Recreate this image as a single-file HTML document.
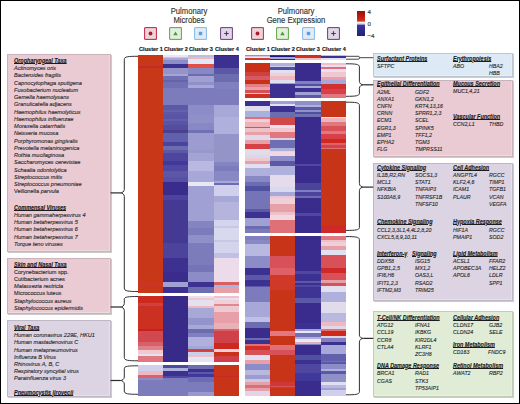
<!DOCTYPE html>
<html><head><meta charset="utf-8"><style>
html,body{margin:0;padding:0;background:#fff;}
body{width:520px;height:404px;position:relative;overflow:hidden;font-family:"Liberation Sans",sans-serif;}
.h{position:absolute;}
.bx{position:absolute;border:1px solid;box-shadow:1px 1px 0.6px rgba(0,0,0,0.2), inset -1px -1px 0 rgba(255,255,255,0.3);}
.t{position:absolute;white-space:nowrap;line-height:1;font-style:italic;color:#2c2c2c;-webkit-text-stroke:0.14px currentColor;transform-origin:0 0;text-underline-offset:0px;text-decoration-color:rgba(20,20,20,0.5);}
.c{position:absolute;width:120px;text-align:center;white-space:nowrap;line-height:1;-webkit-text-stroke:0.15px currentColor;}
.ic{position:absolute;}
.ov{position:absolute;left:0;top:0;}
.fr{position:absolute;left:0;top:0;width:518px;height:402px;border:1px solid #000;pointer-events:none;}
</style></head><body>
<div class="h" style="left:138px;top:55px;width:25px;height:11px;background:#c83818"></div>
<div class="h" style="left:138px;top:66px;width:25px;height:2px;background:#c02c28"></div>
<div class="h" style="left:138px;top:68px;width:25px;height:215px;background:#c83818"></div>
<div class="h" style="left:138px;top:283px;width:25px;height:3px;background:#d03030"></div>
<div class="h" style="left:138px;top:286px;width:25px;height:7px;background:#c83818"></div>
<div class="h" style="left:138px;top:296px;width:25px;height:7px;background:#cc2a1c"></div>
<div class="h" style="left:138px;top:303px;width:25px;height:3px;background:#d04040"></div>
<div class="h" style="left:138px;top:306px;width:25px;height:23px;background:#cc3020"></div>
<div class="h" style="left:138px;top:329px;width:25px;height:2px;background:#c82020"></div>
<div class="h" style="left:138px;top:331px;width:25px;height:11px;background:#d04850"></div>
<div class="h" style="left:138px;top:342px;width:25px;height:4px;background:#d86068"></div>
<div class="h" style="left:138px;top:346px;width:25px;height:4px;background:#e08088"></div>
<div class="h" style="left:138px;top:350px;width:25px;height:4px;background:#f0c8d0"></div>
<div class="h" style="left:138px;top:354px;width:25px;height:2px;background:#e8e0f0"></div>
<div class="h" style="left:138px;top:356px;width:25px;height:6px;background:#e07880"></div>
<div class="h" style="left:138px;top:365px;width:25px;height:6px;background:#d0d0ec"></div>
<div class="h" style="left:138px;top:371px;width:25px;height:4px;background:#f0b8c0"></div>
<div class="h" style="left:138px;top:375px;width:25px;height:3px;background:#e06068"></div>
<div class="h" style="left:138px;top:378px;width:25px;height:2px;background:#8c8cc8"></div>
<div class="h" style="left:138px;top:380px;width:25px;height:16px;background:#7c7cbc"></div>
<div class="h" style="left:163px;top:55px;width:25px;height:2px;background:#ece4f0"></div>
<div class="h" style="left:163px;top:57px;width:25px;height:1px;background:#c8c8e4"></div>
<div class="h" style="left:163px;top:58px;width:25px;height:2px;background:#a8a8d8"></div>
<div class="h" style="left:163px;top:60px;width:25px;height:4px;background:#8c8cc8"></div>
<div class="h" style="left:163px;top:64px;width:25px;height:4px;background:#3c3090"></div>
<div class="h" style="left:163px;top:68px;width:25px;height:6px;background:#9494c8"></div>
<div class="h" style="left:163px;top:74px;width:25px;height:2px;background:#a4a4d4"></div>
<div class="h" style="left:163px;top:76px;width:25px;height:4px;background:#7070b4"></div>
<div class="h" style="left:163px;top:80px;width:25px;height:2px;background:#6464ac"></div>
<div class="h" style="left:163px;top:82px;width:25px;height:6px;background:#7070b4"></div>
<div class="h" style="left:163px;top:88px;width:25px;height:17px;background:#7c7cbc"></div>
<div class="h" style="left:163px;top:105px;width:25px;height:5px;background:#5c58a8"></div>
<div class="h" style="left:163px;top:110px;width:25px;height:2px;background:#6464ac"></div>
<div class="h" style="left:163px;top:112px;width:25px;height:3px;background:#5c58a8"></div>
<div class="h" style="left:163px;top:115px;width:25px;height:4px;background:#5a54a4"></div>
<div class="h" style="left:163px;top:119px;width:25px;height:2px;background:#6060ac"></div>
<div class="h" style="left:163px;top:121px;width:25px;height:4px;background:#5a54a4"></div>
<div class="h" style="left:163px;top:125px;width:25px;height:5px;background:#544c9c"></div>
<div class="h" style="left:163px;top:130px;width:25px;height:3px;background:#4a4090"></div>
<div class="h" style="left:163px;top:133px;width:25px;height:9px;background:#6060ac"></div>
<div class="h" style="left:163px;top:142px;width:25px;height:4px;background:#4c449c"></div>
<div class="h" style="left:163px;top:146px;width:25px;height:4px;background:#6c6cb0"></div>
<div class="h" style="left:163px;top:150px;width:25px;height:3px;background:#5c58a8"></div>
<div class="h" style="left:163px;top:153px;width:25px;height:8px;background:#4e469c"></div>
<div class="h" style="left:163px;top:161px;width:25px;height:4px;background:#40389a"></div>
<div class="h" style="left:163px;top:165px;width:25px;height:6px;background:#5048a0"></div>
<div class="h" style="left:163px;top:171px;width:25px;height:6px;background:#5c58a8"></div>
<div class="h" style="left:163px;top:177px;width:25px;height:5px;background:#5850a4"></div>
<div class="h" style="left:163px;top:182px;width:25px;height:13px;background:#3a2c8c"></div>
<div class="h" style="left:163px;top:195px;width:25px;height:5px;background:#4c449c"></div>
<div class="h" style="left:163px;top:200px;width:25px;height:43px;background:#443a94"></div>
<div class="h" style="left:163px;top:243px;width:25px;height:15px;background:#4c449c"></div>
<div class="h" style="left:163px;top:258px;width:25px;height:14px;background:#3c3090"></div>
<div class="h" style="left:163px;top:272px;width:25px;height:10px;background:#3a2c8c"></div>
<div class="h" style="left:163px;top:282px;width:25px;height:5px;background:#a0a0d4"></div>
<div class="h" style="left:163px;top:287px;width:25px;height:6px;background:#3c3090"></div>
<div class="h" style="left:163px;top:296px;width:25px;height:66px;background:#382a88"></div>
<div class="h" style="left:163px;top:365px;width:25px;height:3px;background:#5048a0"></div>
<div class="h" style="left:163px;top:368px;width:25px;height:3px;background:#b0b0dc"></div>
<div class="h" style="left:163px;top:371px;width:25px;height:5px;background:#3c3090"></div>
<div class="h" style="left:163px;top:376px;width:25px;height:2px;background:#5048a0"></div>
<div class="h" style="left:163px;top:378px;width:25px;height:18px;background:#7c7cbc"></div>
<div class="h" style="left:188px;top:55px;width:26px;height:2px;background:#b8c0e4"></div>
<div class="h" style="left:188px;top:57px;width:26px;height:2px;background:#f0b8b8"></div>
<div class="h" style="left:188px;top:59px;width:26px;height:5px;background:#e0e8f8"></div>
<div class="h" style="left:188px;top:64px;width:26px;height:4px;background:#e05048"></div>
<div class="h" style="left:188px;top:68px;width:26px;height:6px;background:#8888c4"></div>
<div class="h" style="left:188px;top:74px;width:26px;height:2px;background:#6c6cb0"></div>
<div class="h" style="left:188px;top:76px;width:26px;height:6px;background:#a0a0d4"></div>
<div class="h" style="left:188px;top:82px;width:26px;height:3px;background:#9090c8"></div>
<div class="h" style="left:188px;top:85px;width:26px;height:3px;background:#a8a8d8"></div>
<div class="h" style="left:188px;top:88px;width:26px;height:17px;background:#7c7cbc"></div>
<div class="h" style="left:188px;top:105px;width:26px;height:9px;background:#8c8cc8"></div>
<div class="h" style="left:188px;top:114px;width:26px;height:9px;background:#9090c8"></div>
<div class="h" style="left:188px;top:123px;width:26px;height:7px;background:#8888c4"></div>
<div class="h" style="left:188px;top:130px;width:26px;height:3px;background:#7070b4"></div>
<div class="h" style="left:188px;top:133px;width:26px;height:17px;background:#9c9cd0"></div>
<div class="h" style="left:188px;top:150px;width:26px;height:3px;background:#9898cc"></div>
<div class="h" style="left:188px;top:153px;width:26px;height:8px;background:#a4a4d4"></div>
<div class="h" style="left:188px;top:161px;width:26px;height:10px;background:#b8b8e0"></div>
<div class="h" style="left:188px;top:171px;width:26px;height:11px;background:#a8a8d8"></div>
<div class="h" style="left:188px;top:182px;width:26px;height:4px;background:#e8e8f4"></div>
<div class="h" style="left:188px;top:186px;width:26px;height:35px;background:#a0a0d4"></div>
<div class="h" style="left:188px;top:221px;width:26px;height:7px;background:#8484c2"></div>
<div class="h" style="left:188px;top:228px;width:26px;height:7px;background:#7c7cbc"></div>
<div class="h" style="left:188px;top:235px;width:26px;height:8px;background:#9090c8"></div>
<div class="h" style="left:188px;top:243px;width:26px;height:22px;background:#7c7cbc"></div>
<div class="h" style="left:188px;top:265px;width:26px;height:7px;background:#7474b8"></div>
<div class="h" style="left:188px;top:272px;width:26px;height:10px;background:#8c8cc8"></div>
<div class="h" style="left:188px;top:282px;width:26px;height:5px;background:#3c3090"></div>
<div class="h" style="left:188px;top:287px;width:26px;height:6px;background:#6c6cb0"></div>
<div class="h" style="left:188px;top:296px;width:26px;height:2px;background:#e8e0f0"></div>
<div class="h" style="left:188px;top:298px;width:26px;height:2px;background:#f0c8d0"></div>
<div class="h" style="left:188px;top:300px;width:26px;height:6px;background:#e4e0f0"></div>
<div class="h" style="left:188px;top:306px;width:26px;height:2px;background:#f0b8c0"></div>
<div class="h" style="left:188px;top:308px;width:26px;height:10px;background:#a8a8d8"></div>
<div class="h" style="left:188px;top:318px;width:26px;height:7px;background:#9494cc"></div>
<div class="h" style="left:188px;top:325px;width:26px;height:4px;background:#a8a8d8"></div>
<div class="h" style="left:188px;top:329px;width:26px;height:4px;background:#6c6cb0"></div>
<div class="h" style="left:188px;top:333px;width:26px;height:4px;background:#8080c0"></div>
<div class="h" style="left:188px;top:337px;width:26px;height:9px;background:#b0b0dc"></div>
<div class="h" style="left:188px;top:346px;width:26px;height:3px;background:#a0a8d8"></div>
<div class="h" style="left:188px;top:349px;width:26px;height:3px;background:#d84040"></div>
<div class="h" style="left:188px;top:352px;width:26px;height:3px;background:#c8d0ec"></div>
<div class="h" style="left:188px;top:355px;width:26px;height:2px;background:#f0c0c8"></div>
<div class="h" style="left:188px;top:357px;width:26px;height:5px;background:#e4e4f4"></div>
<div class="h" style="left:188px;top:365px;width:26px;height:4px;background:#6c6cb0"></div>
<div class="h" style="left:188px;top:369px;width:26px;height:3px;background:#3c3090"></div>
<div class="h" style="left:188px;top:372px;width:26px;height:2px;background:#5c58a8"></div>
<div class="h" style="left:188px;top:374px;width:26px;height:3px;background:#40389a"></div>
<div class="h" style="left:188px;top:377px;width:26px;height:5px;background:#6c6cb0"></div>
<div class="h" style="left:188px;top:382px;width:26px;height:10px;background:#7c7cbc"></div>
<div class="h" style="left:188px;top:392px;width:26px;height:4px;background:#9898cc"></div>
<div class="h" style="left:214px;top:55px;width:25px;height:1px;background:#302888"></div>
<div class="h" style="left:214px;top:56px;width:25px;height:12px;background:#3c3090"></div>
<div class="h" style="left:214px;top:68px;width:25px;height:6px;background:#5c58a8"></div>
<div class="h" style="left:214px;top:74px;width:25px;height:8px;background:#6c6cb0"></div>
<div class="h" style="left:214px;top:82px;width:25px;height:7px;background:#8080c0"></div>
<div class="h" style="left:214px;top:89px;width:25px;height:16px;background:#7c7cbc"></div>
<div class="h" style="left:214px;top:105px;width:25px;height:12px;background:#a8a8d8"></div>
<div class="h" style="left:214px;top:117px;width:25px;height:17px;background:#b0b0dc"></div>
<div class="h" style="left:214px;top:134px;width:25px;height:28px;background:#9494c8"></div>
<div class="h" style="left:214px;top:162px;width:25px;height:4px;background:#8484c2"></div>
<div class="h" style="left:214px;top:166px;width:25px;height:5px;background:#7c7cbc"></div>
<div class="h" style="left:214px;top:171px;width:25px;height:10px;background:#8888c4"></div>
<div class="h" style="left:214px;top:181px;width:25px;height:2px;background:#a8a8d8"></div>
<div class="h" style="left:214px;top:183px;width:25px;height:2px;background:#6c6cb0"></div>
<div class="h" style="left:214px;top:185px;width:25px;height:11px;background:#d0d0ec"></div>
<div class="h" style="left:214px;top:196px;width:25px;height:6px;background:#a8a8d8"></div>
<div class="h" style="left:214px;top:202px;width:25px;height:18px;background:#b4b4dc"></div>
<div class="h" style="left:214px;top:220px;width:25px;height:6px;background:#d4d4ec"></div>
<div class="h" style="left:214px;top:226px;width:25px;height:2px;background:#c8c8e4"></div>
<div class="h" style="left:214px;top:228px;width:25px;height:12px;background:#d8d8ee"></div>
<div class="h" style="left:214px;top:240px;width:25px;height:2px;background:#c8c8e4"></div>
<div class="h" style="left:214px;top:242px;width:25px;height:11px;background:#d4d4ec"></div>
<div class="h" style="left:214px;top:253px;width:25px;height:5px;background:#c0c0e4"></div>
<div class="h" style="left:214px;top:258px;width:25px;height:24px;background:#ecdcea"></div>
<div class="h" style="left:214px;top:282px;width:25px;height:3px;background:#d86060"></div>
<div class="h" style="left:214px;top:285px;width:25px;height:2px;background:#a8b4e0"></div>
<div class="h" style="left:214px;top:287px;width:25px;height:6px;background:#e8a0a8"></div>
<div class="h" style="left:214px;top:296px;width:25px;height:2px;background:#f0c0c8"></div>
<div class="h" style="left:214px;top:298px;width:25px;height:2px;background:#e8e0f0"></div>
<div class="h" style="left:214px;top:300px;width:25px;height:4px;background:#f0d0d8"></div>
<div class="h" style="left:214px;top:304px;width:25px;height:2px;background:#e08890"></div>
<div class="h" style="left:214px;top:306px;width:25px;height:6px;background:#f0c8d0"></div>
<div class="h" style="left:214px;top:312px;width:25px;height:11px;background:#e8a0a8"></div>
<div class="h" style="left:214px;top:323px;width:25px;height:6px;background:#eab0b8"></div>
<div class="h" style="left:214px;top:329px;width:25px;height:2px;background:#d86068"></div>
<div class="h" style="left:214px;top:331px;width:25px;height:12px;background:#d04048"></div>
<div class="h" style="left:214px;top:343px;width:25px;height:6px;background:#cc2820"></div>
<div class="h" style="left:214px;top:349px;width:25px;height:3px;background:#f0d0d8"></div>
<div class="h" style="left:214px;top:352px;width:25px;height:4px;background:#cc3018"></div>
<div class="h" style="left:214px;top:356px;width:25px;height:6px;background:#d04048"></div>
<div class="h" style="left:214px;top:365px;width:25px;height:11px;background:#c83418"></div>
<div class="h" style="left:214px;top:376px;width:25px;height:1px;background:#c82828"></div>
<div class="h" style="left:214px;top:377px;width:25px;height:19px;background:#c83418"></div>
<div class="h" style="left:245px;top:55px;width:25px;height:1px;background:#9890c8"></div>
<div class="h" style="left:245px;top:56px;width:25px;height:1px;background:#d0c8e4"></div>
<div class="h" style="left:245px;top:57px;width:25px;height:1px;background:#f4e8ee"></div>
<div class="h" style="left:245px;top:58px;width:25px;height:2px;background:#d03c28"></div>
<div class="h" style="left:245px;top:63px;width:25px;height:9px;background:#c83018"></div>
<div class="h" style="left:245px;top:72px;width:25px;height:4px;background:#d04040"></div>
<div class="h" style="left:245px;top:76px;width:25px;height:4px;background:#d65a62"></div>
<div class="h" style="left:245px;top:80px;width:25px;height:4px;background:#c83018"></div>
<div class="h" style="left:245px;top:84px;width:25px;height:3px;background:#e08088"></div>
<div class="h" style="left:245px;top:87px;width:25px;height:3px;background:#e8a0a8"></div>
<div class="h" style="left:245px;top:90px;width:25px;height:3px;background:#d85058"></div>
<div class="h" style="left:245px;top:93px;width:25px;height:1px;background:#f0c0c8"></div>
<div class="h" style="left:245px;top:94px;width:25px;height:4px;background:#d03020"></div>
<div class="h" style="left:245px;top:101px;width:25px;height:5px;background:#3c3090"></div>
<div class="h" style="left:245px;top:106px;width:25px;height:5px;background:#e0dcec"></div>
<div class="h" style="left:245px;top:111px;width:25px;height:6px;background:#a8b0dc"></div>
<div class="h" style="left:245px;top:117px;width:25px;height:2px;background:#e07080"></div>
<div class="h" style="left:245px;top:119px;width:25px;height:3px;background:#f0d0d8"></div>
<div class="h" style="left:245px;top:122px;width:25px;height:5px;background:#f0b0b8"></div>
<div class="h" style="left:245px;top:127px;width:25px;height:1px;background:#d85058"></div>
<div class="h" style="left:245px;top:128px;width:25px;height:4px;background:#f0c0c8"></div>
<div class="h" style="left:245px;top:132px;width:25px;height:3px;background:#e8a0a8"></div>
<div class="h" style="left:245px;top:135px;width:25px;height:5px;background:#e0d8e8"></div>
<div class="h" style="left:245px;top:140px;width:25px;height:4px;background:#e8a0a8"></div>
<div class="h" style="left:245px;top:144px;width:25px;height:5px;background:#d84048"></div>
<div class="h" style="left:245px;top:149px;width:25px;height:6px;background:#e0dce8"></div>
<div class="h" style="left:245px;top:155px;width:25px;height:3px;background:#d8d8ee"></div>
<div class="h" style="left:245px;top:158px;width:25px;height:3px;background:#f0c8d0"></div>
<div class="h" style="left:245px;top:161px;width:25px;height:3px;background:#e8a0a8"></div>
<div class="h" style="left:245px;top:164px;width:25px;height:4px;background:#e0e0f0"></div>
<div class="h" style="left:245px;top:168px;width:25px;height:8px;background:#b0b0dc"></div>
<div class="h" style="left:245px;top:176px;width:25px;height:6px;background:#8888c4"></div>
<div class="h" style="left:245px;top:182px;width:25px;height:4px;background:#6c6cb0"></div>
<div class="h" style="left:245px;top:186px;width:25px;height:5px;background:#5050a0"></div>
<div class="h" style="left:245px;top:191px;width:25px;height:18px;background:#7474b6"></div>
<div class="h" style="left:245px;top:209px;width:25px;height:3px;background:#5c58a8"></div>
<div class="h" style="left:245px;top:212px;width:25px;height:6px;background:#3c3090"></div>
<div class="h" style="left:245px;top:218px;width:25px;height:8px;background:#a0a0d4"></div>
<div class="h" style="left:245px;top:226px;width:25px;height:3px;background:#6c6cb0"></div>
<div class="h" style="left:245px;top:229px;width:25px;height:4px;background:#7c7cbc"></div>
<div class="h" style="left:245px;top:236px;width:25px;height:4px;background:#8080c0"></div>
<div class="h" style="left:245px;top:240px;width:25px;height:4px;background:#8888c4"></div>
<div class="h" style="left:245px;top:244px;width:25px;height:12px;background:#b8b8e0"></div>
<div class="h" style="left:245px;top:256px;width:25px;height:12px;background:#8c8cc8"></div>
<div class="h" style="left:245px;top:268px;width:25px;height:7px;background:#3c3090"></div>
<div class="h" style="left:245px;top:275px;width:25px;height:5px;background:#5c58a8"></div>
<div class="h" style="left:245px;top:280px;width:25px;height:6px;background:#3c3090"></div>
<div class="h" style="left:245px;top:286px;width:25px;height:1px;background:#5c58a8"></div>
<div class="h" style="left:245px;top:287px;width:25px;height:15px;background:#7c7cbc"></div>
<div class="h" style="left:245px;top:302px;width:25px;height:15px;background:#a8a8d8"></div>
<div class="h" style="left:245px;top:317px;width:25px;height:5px;background:#c0c0e4"></div>
<div class="h" style="left:245px;top:322px;width:25px;height:6px;background:#6c6cb0"></div>
<div class="h" style="left:245px;top:328px;width:25px;height:10px;background:#3a2c8c"></div>
<div class="h" style="left:245px;top:338px;width:25px;height:2px;background:#6c6cb0"></div>
<div class="h" style="left:245px;top:340px;width:25px;height:4px;background:#3c3090"></div>
<div class="h" style="left:245px;top:344px;width:25px;height:2px;background:#e07078"></div>
<div class="h" style="left:245px;top:346px;width:25px;height:4px;background:#d03028"></div>
<div class="h" style="left:245px;top:350px;width:25px;height:5px;background:#d85058"></div>
<div class="h" style="left:245px;top:355px;width:25px;height:5px;background:#e0e0f0"></div>
<div class="h" style="left:245px;top:360px;width:25px;height:4px;background:#e8a0a8"></div>
<div class="h" style="left:245px;top:364px;width:25px;height:6px;background:#8c8cc8"></div>
<div class="h" style="left:245px;top:370px;width:25px;height:5px;background:#b8b8e0"></div>
<div class="h" style="left:245px;top:375px;width:25px;height:4px;background:#9c9cd0"></div>
<div class="h" style="left:245px;top:379px;width:25px;height:3px;background:#c8c8e8"></div>
<div class="h" style="left:245px;top:382px;width:25px;height:3px;background:#e8a0a8"></div>
<div class="h" style="left:245px;top:385px;width:25px;height:3px;background:#d87078"></div>
<div class="h" style="left:245px;top:388px;width:25px;height:3px;background:#e8a0a8"></div>
<div class="h" style="left:245px;top:391px;width:25px;height:3px;background:#d8d8f0"></div>
<div class="h" style="left:245px;top:394px;width:25px;height:2px;background:#f0d0e0"></div>
<div class="h" style="left:270px;top:55px;width:25px;height:1px;background:#3a3090"></div>
<div class="h" style="left:270px;top:56px;width:25px;height:1px;background:#201878"></div>
<div class="h" style="left:270px;top:57px;width:25px;height:2px;background:#a8a8d4"></div>
<div class="h" style="left:270px;top:59px;width:25px;height:1px;background:#302888"></div>
<div class="h" style="left:270px;top:63px;width:25px;height:3px;background:#b0b0dc"></div>
<div class="h" style="left:270px;top:66px;width:25px;height:1px;background:#d0d0ec"></div>
<div class="h" style="left:270px;top:67px;width:25px;height:3px;background:#5050a0"></div>
<div class="h" style="left:270px;top:70px;width:25px;height:3px;background:#e0e0f0"></div>
<div class="h" style="left:270px;top:73px;width:25px;height:3px;background:#f0d0d8"></div>
<div class="h" style="left:270px;top:76px;width:25px;height:4px;background:#f0b8c0"></div>
<div class="h" style="left:270px;top:80px;width:25px;height:3px;background:#e0e0f0"></div>
<div class="h" style="left:270px;top:83px;width:25px;height:1px;background:#a0a0d4"></div>
<div class="h" style="left:270px;top:84px;width:25px;height:14px;background:#3c3090"></div>
<div class="h" style="left:270px;top:101px;width:25px;height:3px;background:#a0a0d4"></div>
<div class="h" style="left:270px;top:104px;width:25px;height:2px;background:#e0e0f0"></div>
<div class="h" style="left:270px;top:106px;width:25px;height:6px;background:#3c3090"></div>
<div class="h" style="left:270px;top:112px;width:25px;height:5px;background:#6c6cb0"></div>
<div class="h" style="left:270px;top:117px;width:25px;height:8px;background:#d04848"></div>
<div class="h" style="left:270px;top:125px;width:25px;height:3px;background:#e8e0f0"></div>
<div class="h" style="left:270px;top:128px;width:25px;height:4px;background:#f0c8d0"></div>
<div class="h" style="left:270px;top:132px;width:25px;height:6px;background:#e07880"></div>
<div class="h" style="left:270px;top:138px;width:25px;height:2px;background:#e0d0e0"></div>
<div class="h" style="left:270px;top:140px;width:25px;height:8px;background:#6e6eb2"></div>
<div class="h" style="left:270px;top:148px;width:25px;height:3px;background:#b0b0dc"></div>
<div class="h" style="left:270px;top:151px;width:25px;height:1px;background:#d8d8ee"></div>
<div class="h" style="left:270px;top:152px;width:25px;height:4px;background:#f0d8e0"></div>
<div class="h" style="left:270px;top:156px;width:25px;height:5px;background:#8c8cc8"></div>
<div class="h" style="left:270px;top:161px;width:25px;height:5px;background:#5c58a8"></div>
<div class="h" style="left:270px;top:166px;width:25px;height:9px;background:#b0b0dc"></div>
<div class="h" style="left:270px;top:175px;width:25px;height:12px;background:#e4dcec"></div>
<div class="h" style="left:270px;top:187px;width:25px;height:5px;background:#d8d8ee"></div>
<div class="h" style="left:270px;top:192px;width:25px;height:4px;background:#a8a8d8"></div>
<div class="h" style="left:270px;top:196px;width:25px;height:2px;background:#e8c8d8"></div>
<div class="h" style="left:270px;top:198px;width:25px;height:6px;background:#f0d0d8"></div>
<div class="h" style="left:270px;top:204px;width:25px;height:8px;background:#e8a0a8"></div>
<div class="h" style="left:270px;top:212px;width:25px;height:3px;background:#f0c0c8"></div>
<div class="h" style="left:270px;top:215px;width:25px;height:5px;background:#f0d8e0"></div>
<div class="h" style="left:270px;top:220px;width:25px;height:13px;background:#e07078"></div>
<div class="h" style="left:270px;top:236px;width:25px;height:20px;background:#c83418"></div>
<div class="h" style="left:270px;top:256px;width:25px;height:12px;background:#d85058"></div>
<div class="h" style="left:270px;top:268px;width:25px;height:7px;background:#e06068"></div>
<div class="h" style="left:270px;top:275px;width:25px;height:15px;background:#d03828"></div>
<div class="h" style="left:270px;top:290px;width:25px;height:41px;background:#c83418"></div>
<div class="h" style="left:270px;top:331px;width:25px;height:5px;background:#e07880"></div>
<div class="h" style="left:270px;top:336px;width:25px;height:9px;background:#c83418"></div>
<div class="h" style="left:270px;top:345px;width:25px;height:5px;background:#e07078"></div>
<div class="h" style="left:270px;top:350px;width:25px;height:5px;background:#d85058"></div>
<div class="h" style="left:270px;top:355px;width:25px;height:27px;background:#c83418"></div>
<div class="h" style="left:270px;top:382px;width:25px;height:4px;background:#d03838"></div>
<div class="h" style="left:270px;top:386px;width:25px;height:1px;background:#d85058"></div>
<div class="h" style="left:270px;top:387px;width:25px;height:1px;background:#d03838"></div>
<div class="h" style="left:270px;top:388px;width:25px;height:8px;background:#c83418"></div>
<div class="h" style="left:295px;top:55px;width:26px;height:3px;background:#d03020"></div>
<div class="h" style="left:295px;top:58px;width:26px;height:2px;background:#f0c0c8"></div>
<div class="h" style="left:295px;top:63px;width:26px;height:18px;background:#3a2c8c"></div>
<div class="h" style="left:295px;top:81px;width:26px;height:3px;background:#8080c0"></div>
<div class="h" style="left:295px;top:84px;width:26px;height:2px;background:#5050a0"></div>
<div class="h" style="left:295px;top:86px;width:26px;height:2px;background:#a8a8d8"></div>
<div class="h" style="left:295px;top:88px;width:26px;height:4px;background:#3c3090"></div>
<div class="h" style="left:295px;top:92px;width:26px;height:3px;background:#a0a0d4"></div>
<div class="h" style="left:295px;top:95px;width:26px;height:3px;background:#5c58a8"></div>
<div class="h" style="left:295px;top:101px;width:26px;height:4px;background:#9090c8"></div>
<div class="h" style="left:295px;top:105px;width:26px;height:2px;background:#b0b0dc"></div>
<div class="h" style="left:295px;top:107px;width:26px;height:3px;background:#5c58a8"></div>
<div class="h" style="left:295px;top:110px;width:26px;height:2px;background:#9090c8"></div>
<div class="h" style="left:295px;top:112px;width:26px;height:2px;background:#5050a0"></div>
<div class="h" style="left:295px;top:114px;width:26px;height:3px;background:#7070b4"></div>
<div class="h" style="left:295px;top:117px;width:26px;height:47px;background:#3a2c8c"></div>
<div class="h" style="left:295px;top:164px;width:26px;height:2px;background:#5048a0"></div>
<div class="h" style="left:295px;top:166px;width:26px;height:17px;background:#3a2c8c"></div>
<div class="h" style="left:295px;top:183px;width:26px;height:7px;background:#4c449c"></div>
<div class="h" style="left:295px;top:190px;width:26px;height:2px;background:#8080c0"></div>
<div class="h" style="left:295px;top:192px;width:26px;height:4px;background:#4c449c"></div>
<div class="h" style="left:295px;top:196px;width:26px;height:2px;background:#6c6cb0"></div>
<div class="h" style="left:295px;top:198px;width:26px;height:15px;background:#3a2c8c"></div>
<div class="h" style="left:295px;top:213px;width:26px;height:3px;background:#5048a0"></div>
<div class="h" style="left:295px;top:216px;width:26px;height:17px;background:#3a2c8c"></div>
<div class="h" style="left:295px;top:236px;width:26px;height:35px;background:#3a2c8c"></div>
<div class="h" style="left:295px;top:271px;width:26px;height:3px;background:#5048a0"></div>
<div class="h" style="left:295px;top:274px;width:26px;height:7px;background:#3c3090"></div>
<div class="h" style="left:295px;top:281px;width:26px;height:2px;background:#5c58a8"></div>
<div class="h" style="left:295px;top:283px;width:26px;height:2px;background:#3c3090"></div>
<div class="h" style="left:295px;top:285px;width:26px;height:2px;background:#5048a0"></div>
<div class="h" style="left:295px;top:287px;width:26px;height:11px;background:#3e3494"></div>
<div class="h" style="left:295px;top:298px;width:26px;height:5px;background:#5c58a8"></div>
<div class="h" style="left:295px;top:303px;width:26px;height:20px;background:#3a2c8c"></div>
<div class="h" style="left:295px;top:323px;width:26px;height:6px;background:#3c3090"></div>
<div class="h" style="left:295px;top:329px;width:26px;height:2px;background:#a0a0d4"></div>
<div class="h" style="left:295px;top:331px;width:26px;height:2px;background:#e8e8f8"></div>
<div class="h" style="left:295px;top:333px;width:26px;height:4px;background:#7070b4"></div>
<div class="h" style="left:295px;top:337px;width:26px;height:2px;background:#b0b0dc"></div>
<div class="h" style="left:295px;top:339px;width:26px;height:3px;background:#e8e8f8"></div>
<div class="h" style="left:295px;top:342px;width:26px;height:2px;background:#e0b0c0"></div>
<div class="h" style="left:295px;top:344px;width:26px;height:1px;background:#8080c0"></div>
<div class="h" style="left:295px;top:345px;width:26px;height:10px;background:#3a2c8c"></div>
<div class="h" style="left:295px;top:355px;width:26px;height:5px;background:#5050a0"></div>
<div class="h" style="left:295px;top:360px;width:26px;height:4px;background:#3c3090"></div>
<div class="h" style="left:295px;top:364px;width:26px;height:9px;background:#5048a0"></div>
<div class="h" style="left:295px;top:373px;width:26px;height:8px;background:#40389a"></div>
<div class="h" style="left:295px;top:381px;width:26px;height:15px;background:#3a2c8c"></div>
<div class="h" style="left:321px;top:55px;width:25px;height:1px;background:#f0b0b8"></div>
<div class="h" style="left:321px;top:56px;width:25px;height:2px;background:#3c3090"></div>
<div class="h" style="left:321px;top:58px;width:25px;height:2px;background:#e0e0f0"></div>
<div class="h" style="left:321px;top:63px;width:25px;height:2px;background:#f0c0c8"></div>
<div class="h" style="left:321px;top:65px;width:25px;height:2px;background:#e8e0f0"></div>
<div class="h" style="left:321px;top:67px;width:25px;height:2px;background:#e07080"></div>
<div class="h" style="left:321px;top:69px;width:25px;height:3px;background:#e8e0f0"></div>
<div class="h" style="left:321px;top:72px;width:25px;height:5px;background:#f0c8d0"></div>
<div class="h" style="left:321px;top:77px;width:25px;height:3px;background:#e8a0b0"></div>
<div class="h" style="left:321px;top:80px;width:25px;height:4px;background:#a8a8d8"></div>
<div class="h" style="left:321px;top:84px;width:25px;height:5px;background:#d03030"></div>
<div class="h" style="left:321px;top:89px;width:25px;height:5px;background:#d84048"></div>
<div class="h" style="left:321px;top:94px;width:25px;height:4px;background:#e07880"></div>
<div class="h" style="left:321px;top:101px;width:25px;height:16px;background:#c83418"></div>
<div class="h" style="left:321px;top:117px;width:25px;height:1px;background:#f0e0e8"></div>
<div class="h" style="left:321px;top:118px;width:25px;height:4px;background:#ecb4bc"></div>
<div class="h" style="left:321px;top:122px;width:25px;height:4px;background:#e07880"></div>
<div class="h" style="left:321px;top:126px;width:25px;height:5px;background:#d85058"></div>
<div class="h" style="left:321px;top:131px;width:25px;height:3px;background:#e07880"></div>
<div class="h" style="left:321px;top:134px;width:25px;height:5px;background:#d84048"></div>
<div class="h" style="left:321px;top:139px;width:25px;height:4px;background:#d02820"></div>
<div class="h" style="left:321px;top:143px;width:25px;height:2px;background:#e06068"></div>
<div class="h" style="left:321px;top:145px;width:25px;height:3px;background:#d84048"></div>
<div class="h" style="left:321px;top:148px;width:25px;height:1px;background:#e07078"></div>
<div class="h" style="left:321px;top:149px;width:25px;height:76px;background:#c83418"></div>
<div class="h" style="left:321px;top:225px;width:25px;height:8px;background:#d02828"></div>
<div class="h" style="left:321px;top:236px;width:25px;height:4px;background:#e07880"></div>
<div class="h" style="left:321px;top:240px;width:25px;height:2px;background:#f0c0c8"></div>
<div class="h" style="left:321px;top:242px;width:25px;height:4px;background:#f0d0d8"></div>
<div class="h" style="left:321px;top:246px;width:25px;height:4px;background:#e8a0a8"></div>
<div class="h" style="left:321px;top:250px;width:25px;height:5px;background:#e0e0f0"></div>
<div class="h" style="left:321px;top:255px;width:25px;height:13px;background:#d85058"></div>
<div class="h" style="left:321px;top:268px;width:25px;height:5px;background:#d02828"></div>
<div class="h" style="left:321px;top:273px;width:25px;height:7px;background:#d85058"></div>
<div class="h" style="left:321px;top:280px;width:25px;height:3px;background:#e8a0a8"></div>
<div class="h" style="left:321px;top:283px;width:25px;height:3px;background:#d85058"></div>
<div class="h" style="left:321px;top:286px;width:25px;height:6px;background:#e0e0f0"></div>
<div class="h" style="left:321px;top:292px;width:25px;height:10px;background:#b0b0dc"></div>
<div class="h" style="left:321px;top:302px;width:25px;height:11px;background:#e0dcec"></div>
<div class="h" style="left:321px;top:313px;width:25px;height:9px;background:#b8b8e0"></div>
<div class="h" style="left:321px;top:322px;width:25px;height:4px;background:#f0b8c0"></div>
<div class="h" style="left:321px;top:326px;width:25px;height:3px;background:#e0d8e8"></div>
<div class="h" style="left:321px;top:329px;width:25px;height:2px;background:#e07078"></div>
<div class="h" style="left:321px;top:331px;width:25px;height:5px;background:#d02818"></div>
<div class="h" style="left:321px;top:336px;width:25px;height:2px;background:#e0d0e0"></div>
<div class="h" style="left:321px;top:338px;width:25px;height:4px;background:#8080c0"></div>
<div class="h" style="left:321px;top:342px;width:25px;height:3px;background:#3c3090"></div>
<div class="h" style="left:321px;top:345px;width:25px;height:9px;background:#a8a8d8"></div>
<div class="h" style="left:321px;top:354px;width:25px;height:7px;background:#6060ac"></div>
<div class="h" style="left:321px;top:361px;width:25px;height:1px;background:#7070b4"></div>
<div class="h" style="left:321px;top:362px;width:25px;height:2px;background:#5c58a8"></div>
<div class="h" style="left:321px;top:364px;width:25px;height:5px;background:#8c8cc8"></div>
<div class="h" style="left:321px;top:369px;width:25px;height:2px;background:#b0b0dc"></div>
<div class="h" style="left:321px;top:371px;width:25px;height:3px;background:#5c58a8"></div>
<div class="h" style="left:321px;top:374px;width:25px;height:8px;background:#9090c8"></div>
<div class="h" style="left:321px;top:382px;width:25px;height:3px;background:#e0e0f0"></div>
<div class="h" style="left:321px;top:385px;width:25px;height:3px;background:#b8b8e0"></div>
<div class="h" style="left:321px;top:388px;width:25px;height:2px;background:#a0a0d4"></div>
<div class="h" style="left:321px;top:390px;width:25px;height:6px;background:#d0d0ec"></div>
<div class="bx" style="left:7px;top:54px;width:102px;height:196px;background:#eacbd3;border-color:#c9b2b9"></div>
<div class="bx" style="left:7px;top:258px;width:102px;height:54px;background:#eacbd3;border-color:#c9b2b9"></div>
<div class="bx" style="left:7px;top:320px;width:102px;height:75px;background:#ddd4e3;border-color:#bfb6c6"></div>
<div class="bx" style="left:373px;top:53px;width:138px;height:22px;background:#dde9f5;border-color:#bcc7d3"></div>
<div class="bx" style="left:373px;top:80px;width:138px;height:75px;background:#eacbd3;border-color:#c9b2b9"></div>
<div class="bx" style="left:373px;top:163px;width:138px;height:136px;background:#ddd4e3;border-color:#bfb6c6"></div>
<div class="bx" style="left:373px;top:311px;width:138px;height:84px;background:#e0ecd6;border-color:#c0ccb6"></div>
<div class="t" style="left:13.8px;top:58px;font-size:6.5px;font-weight:bold;text-decoration:underline;color:#1c1c1c;transform:scaleX(0.84);">Oropharyngeal Taxa</div>
<div class="t" style="left:13.8px;top:65px;font-size:6.2px;transform:scaleX(0.9);">Actinomyces oris</div>
<div class="t" style="left:13.8px;top:72px;font-size:6.2px;transform:scaleX(0.9);">Bacteroides fragilis</div>
<div class="t" style="left:13.8px;top:80px;font-size:6.2px;transform:scaleX(0.9);">Capnocytophaga sputigena</div>
<div class="t" style="left:13.8px;top:87px;font-size:6.2px;transform:scaleX(0.9);">Fusobacterium nucleatum</div>
<div class="t" style="left:13.8px;top:94px;font-size:6.2px;transform:scaleX(0.9);">Gemella haemolysans</div>
<div class="t" style="left:13.8px;top:101px;font-size:6.2px;transform:scaleX(0.9);">Granulicatella adjacens</div>
<div class="t" style="left:13.8px;top:109px;font-size:6.2px;transform:scaleX(0.9);">Haemophilus haemolyticus</div>
<div class="t" style="left:13.8px;top:116px;font-size:6.2px;transform:scaleX(0.9);">Haemophilus influenzae</div>
<div class="t" style="left:13.8px;top:123px;font-size:6.2px;transform:scaleX(0.9);">Moraxella catarrhalis</div>
<div class="t" style="left:13.8px;top:130px;font-size:6.2px;transform:scaleX(0.9);">Neisseria mucosa</div>
<div class="t" style="left:13.8px;top:138px;font-size:6.2px;transform:scaleX(0.9);">Porphyromonas gingivalis</div>
<div class="t" style="left:13.8px;top:145px;font-size:6.2px;transform:scaleX(0.9);">Prevotella melaninogenica</div>
<div class="t" style="left:13.8px;top:152px;font-size:6.2px;transform:scaleX(0.9);">Rothia mucilaginosa</div>
<div class="t" style="left:13.8px;top:159px;font-size:6.2px;transform:scaleX(0.9);">Saccharomyces cerevisiae</div>
<div class="t" style="left:13.8px;top:167px;font-size:6.2px;transform:scaleX(0.9);">Schaalia odontolytica</div>
<div class="t" style="left:13.8px;top:174px;font-size:6.2px;transform:scaleX(0.9);">Streptococcus mitis</div>
<div class="t" style="left:13.8px;top:181px;font-size:6.2px;transform:scaleX(0.9);">Streptococcus pneumoniae</div>
<div class="t" style="left:13.8px;top:188px;font-size:6.2px;transform:scaleX(0.9);"><span style='font-style:normal'>Veillonella</span> parvula</div>
<div class="t" style="left:13.8px;top:205px;font-size:6.5px;font-weight:bold;text-decoration:underline;color:#1c1c1c;transform:scaleX(0.84);">Commensal Viruses</div>
<div class="t" style="left:13.8px;top:212px;font-size:6.2px;transform:scaleX(0.9);">Human gammaherpesvirus 4</div>
<div class="t" style="left:13.8px;top:219px;font-size:6.2px;transform:scaleX(0.9);">Human betaherpesvirus 5</div>
<div class="t" style="left:13.8px;top:226px;font-size:6.2px;transform:scaleX(0.9);">Human betaherpesvirus 6</div>
<div class="t" style="left:13.8px;top:234px;font-size:6.2px;transform:scaleX(0.9);">Human betaherpesvirus 7</div>
<div class="t" style="left:13.8px;top:241px;font-size:6.2px;transform:scaleX(0.9);">Torque teno viruses</div>
<div class="t" style="left:13.8px;top:262px;font-size:6.5px;font-weight:bold;text-decoration:underline;color:#1c1c1c;transform:scaleX(0.84);">Skin and Nasal Taxa</div>
<div class="t" style="left:13.8px;top:269px;font-size:6.2px;font-style:normal;transform:scaleX(0.9);">Corynebacterium spp.</div>
<div class="t" style="left:13.8px;top:276px;font-size:6.2px;font-style:normal;transform:scaleX(0.9);">Cutibacterium acnes</div>
<div class="t" style="left:13.8px;top:283px;font-size:6.2px;transform:scaleX(0.9);">Malassezia restricta</div>
<div class="t" style="left:13.8px;top:290px;font-size:6.2px;font-style:normal;transform:scaleX(0.9);">Micrococcus luteus</div>
<div class="t" style="left:13.8px;top:298px;font-size:6.2px;transform:scaleX(0.9);">Staphylococcus aureus</div>
<div class="t" style="left:13.8px;top:305px;font-size:6.2px;transform:scaleX(0.9);">Staphylococcus epidermidis</div>
<div class="t" style="left:13.8px;top:325px;font-size:6.5px;font-weight:bold;text-decoration:underline;color:#1c1c1c;transform:scaleX(0.84);">Viral Taxa</div>
<div class="t" style="left:13.8px;top:332px;font-size:6.2px;transform:scaleX(0.9);">Human coronavirus 229E, HKU1</div>
<div class="t" style="left:13.8px;top:339px;font-size:6.2px;transform:scaleX(0.9);">Human mastadenovirus C</div>
<div class="t" style="left:13.8px;top:347px;font-size:6.2px;transform:scaleX(0.9);">Human metapneumovirus</div>
<div class="t" style="left:13.8px;top:354px;font-size:6.2px;transform:scaleX(0.9);">Influenza B Virus</div>
<div class="t" style="left:13.8px;top:361px;font-size:6.2px;transform:scaleX(0.9);">Rhinovirus A, B, C</div>
<div class="t" style="left:13.8px;top:368px;font-size:6.2px;transform:scaleX(0.9);">Respiratory syncytial virus</div>
<div class="t" style="left:13.8px;top:375px;font-size:6.2px;transform:scaleX(0.9);">Parainfluenza virus 3</div>
<div class="t" style="left:13.8px;top:390px;font-size:6.5px;font-weight:bold;text-decoration:underline;color:#1c1c1c;transform:scaleX(0.84);">Pneumocystis jirovecii</div>
<div class="t" style="left:377px;top:56px;font-size:6.5px;font-weight:bold;text-decoration:underline;color:#1c1c1c;transform:scaleX(0.84);">Surfactant Proteins</div>
<div class="t" style="left:377px;top:63px;font-size:6.2px;transform:scaleX(0.85);">SFTPC</div>
<div class="t" style="left:453.3px;top:56px;font-size:6.5px;font-weight:bold;text-decoration:underline;color:#1c1c1c;transform:scaleX(0.84);">Erythropoiesis</div>
<div class="t" style="left:453.3px;top:63px;font-size:6.2px;transform:scaleX(0.85);">ABO</div>
<div class="t" style="left:488.6px;top:63px;font-size:6.2px;transform:scaleX(0.85);">HBA2</div>
<div class="t" style="left:488.6px;top:70px;font-size:6.2px;transform:scaleX(0.85);">HBB</div>
<div class="t" style="left:377px;top:81px;font-size:6.5px;font-weight:bold;text-decoration:underline;color:#1c1c1c;transform:scaleX(0.84);">Epithelial Differentiation</div>
<div class="t" style="left:377px;top:89px;font-size:6.2px;transform:scaleX(0.85);">A2ML</div>
<div class="t" style="left:415px;top:89px;font-size:6.2px;transform:scaleX(0.85);">GDF2</div>
<div class="t" style="left:377px;top:96px;font-size:6.2px;transform:scaleX(0.85);">ANXA1</div>
<div class="t" style="left:415px;top:96px;font-size:6.2px;transform:scaleX(0.85);">GKN1,2</div>
<div class="t" style="left:377px;top:103px;font-size:6.2px;transform:scaleX(0.85);">CNFN</div>
<div class="t" style="left:415px;top:103px;font-size:6.2px;transform:scaleX(0.85);">KRT4,13,16</div>
<div class="t" style="left:377px;top:110px;font-size:6.2px;transform:scaleX(0.85);">CRNN</div>
<div class="t" style="left:415px;top:110px;font-size:6.2px;transform:scaleX(0.85);">SPRR1,2,3</div>
<div class="t" style="left:377px;top:117px;font-size:6.2px;transform:scaleX(0.85);">ECM1</div>
<div class="t" style="left:415px;top:117px;font-size:6.2px;transform:scaleX(0.85);">SCEL</div>
<div class="t" style="left:377px;top:125px;font-size:6.2px;transform:scaleX(0.85);">EGR1,3</div>
<div class="t" style="left:415px;top:125px;font-size:6.2px;transform:scaleX(0.85);">SPINK5</div>
<div class="t" style="left:377px;top:132px;font-size:6.2px;transform:scaleX(0.85);">EMP1</div>
<div class="t" style="left:415px;top:132px;font-size:6.2px;transform:scaleX(0.85);">TFF1,2</div>
<div class="t" style="left:377px;top:139px;font-size:6.2px;transform:scaleX(0.85);">EPHA2</div>
<div class="t" style="left:415px;top:139px;font-size:6.2px;transform:scaleX(0.85);">TGM3</div>
<div class="t" style="left:377px;top:146px;font-size:6.2px;transform:scaleX(0.85);">FLG</div>
<div class="t" style="left:415px;top:146px;font-size:6.2px;transform:scaleX(0.85);">TMPRSS11</div>
<div class="t" style="left:453.3px;top:81px;font-size:6.5px;font-weight:bold;text-decoration:underline;color:#1c1c1c;transform:scaleX(0.84);">Mucous Secretion</div>
<div class="t" style="left:453.3px;top:88px;font-size:6.2px;transform:scaleX(0.85);">MUC1,4,21</div>
<div class="t" style="left:453.3px;top:114px;font-size:6.5px;font-weight:bold;text-decoration:underline;color:#1c1c1c;transform:scaleX(0.84);">Vascular Function</div>
<div class="t" style="left:453.3px;top:121px;font-size:6.2px;transform:scaleX(0.85);">CCN2,L1</div>
<div class="t" style="left:488.6px;top:121px;font-size:6.2px;transform:scaleX(0.85);">THBD</div>
<div class="t" style="left:377px;top:165px;font-size:6.5px;font-weight:bold;text-decoration:underline;color:#1c1c1c;transform:scaleX(0.84);">Cytokine Signaling</div>
<div class="t" style="left:377px;top:172px;font-size:6.2px;transform:scaleX(0.85);">IL1B,R2,RN</div>
<div class="t" style="left:377px;top:179px;font-size:6.2px;transform:scaleX(0.85);">MCL1</div>
<div class="t" style="left:377px;top:186px;font-size:6.2px;transform:scaleX(0.85);">NFKBIA</div>
<div class="t" style="left:377px;top:194px;font-size:6.2px;transform:scaleX(0.85);">S100A8,9</div>
<div class="t" style="left:415px;top:172px;font-size:6.2px;transform:scaleX(0.85);">SOCS1,3</div>
<div class="t" style="left:415px;top:179px;font-size:6.2px;transform:scaleX(0.85);">STAT1</div>
<div class="t" style="left:415px;top:186px;font-size:6.2px;transform:scaleX(0.85);">TNFAIP3</div>
<div class="t" style="left:415px;top:194px;font-size:6.2px;transform:scaleX(0.85);">TNFRSF1B</div>
<div class="t" style="left:415px;top:201px;font-size:6.2px;transform:scaleX(0.85);">TNFSF10</div>
<div class="t" style="left:453.3px;top:165px;font-size:6.5px;font-weight:bold;text-decoration:underline;color:#1c1c1c;transform:scaleX(0.84);">Cell Adhesion</div>
<div class="t" style="left:453.3px;top:172px;font-size:6.2px;transform:scaleX(0.85);">ANGPTL4</div>
<div class="t" style="left:453.3px;top:179px;font-size:6.2px;transform:scaleX(0.85);">KLF2,4,6</div>
<div class="t" style="left:453.3px;top:186px;font-size:6.2px;transform:scaleX(0.85);">ICAM1</div>
<div class="t" style="left:453.3px;top:194px;font-size:6.2px;transform:scaleX(0.85);">PLAUR</div>
<div class="t" style="left:488.6px;top:172px;font-size:6.2px;transform:scaleX(0.85);">RGCC</div>
<div class="t" style="left:488.6px;top:179px;font-size:6.2px;transform:scaleX(0.85);">TIMP1</div>
<div class="t" style="left:488.6px;top:186px;font-size:6.2px;transform:scaleX(0.85);">TGFB1</div>
<div class="t" style="left:488.6px;top:194px;font-size:6.2px;transform:scaleX(0.85);">VCAN</div>
<div class="t" style="left:488.6px;top:201px;font-size:6.2px;transform:scaleX(0.85);">VEGFA</div>
<div class="t" style="left:377px;top:219px;font-size:6.5px;font-weight:bold;text-decoration:underline;color:#1c1c1c;transform:scaleX(0.84);">Chemokine Signaling</div>
<div class="t" style="left:377px;top:227px;font-size:6.2px;transform:scaleX(0.85);">CCL2,3,3L1,4,4L2,8,20</div>
<div class="t" style="left:377px;top:234px;font-size:6.2px;transform:scaleX(0.85);">CXCL5,8,9,10,11</div>
<div class="t" style="left:453.3px;top:219px;font-size:6.5px;font-weight:bold;text-decoration:underline;color:#1c1c1c;transform:scaleX(0.84);">Hypoxia Response</div>
<div class="t" style="left:453.3px;top:227px;font-size:6.2px;transform:scaleX(0.85);">HIF1A</div>
<div class="t" style="left:453.3px;top:234px;font-size:6.2px;transform:scaleX(0.85);">PMAIP1</div>
<div class="t" style="left:488.6px;top:227px;font-size:6.2px;transform:scaleX(0.85);">RGCC</div>
<div class="t" style="left:488.6px;top:234px;font-size:6.2px;transform:scaleX(0.85);">SOD2</div>
<div class="t" style="left:377px;top:251px;font-size:6.5px;font-weight:bold;text-decoration:underline;color:#1c1c1c;transform:scaleX(0.84);">Interferon-&gamma;</div>
<div class="t" style="left:412.3px;top:251px;font-size:6.5px;font-weight:bold;text-decoration:underline;color:#1c1c1c;transform:scaleX(0.84);">Signaling</div>
<div class="t" style="left:377px;top:258px;font-size:6.2px;transform:scaleX(0.85);">DDX58</div>
<div class="t" style="left:377px;top:265px;font-size:6.2px;transform:scaleX(0.85);">GPB1,2,5</div>
<div class="t" style="left:377px;top:272px;font-size:6.2px;transform:scaleX(0.85);">IFI6,H6</div>
<div class="t" style="left:377px;top:280px;font-size:6.2px;transform:scaleX(0.85);">IFIT1,2,3</div>
<div class="t" style="left:377px;top:287px;font-size:6.2px;transform:scaleX(0.85);">IFTM2,M3</div>
<div class="t" style="left:415px;top:258px;font-size:6.2px;transform:scaleX(0.85);">ISG15</div>
<div class="t" style="left:415px;top:265px;font-size:6.2px;transform:scaleX(0.85);">MX1,2</div>
<div class="t" style="left:415px;top:272px;font-size:6.2px;transform:scaleX(0.85);">OAS3,L</div>
<div class="t" style="left:415px;top:280px;font-size:6.2px;transform:scaleX(0.85);">RSAD2</div>
<div class="t" style="left:415px;top:287px;font-size:6.2px;transform:scaleX(0.85);">TRIM25</div>
<div class="t" style="left:453.3px;top:251px;font-size:6.5px;font-weight:bold;text-decoration:underline;color:#1c1c1c;transform:scaleX(0.84);">Lipid Metabolism</div>
<div class="t" style="left:453.3px;top:258px;font-size:6.2px;transform:scaleX(0.85);">ACSL1</div>
<div class="t" style="left:453.3px;top:265px;font-size:6.2px;transform:scaleX(0.85);">APOBEC3A</div>
<div class="t" style="left:453.3px;top:272px;font-size:6.2px;transform:scaleX(0.85);">APOL6</div>
<div class="t" style="left:488.6px;top:258px;font-size:6.2px;transform:scaleX(0.85);">FFAR2</div>
<div class="t" style="left:488.6px;top:265px;font-size:6.2px;transform:scaleX(0.85);">HELZ2</div>
<div class="t" style="left:488.6px;top:272px;font-size:6.2px;transform:scaleX(0.85);">LDLR</div>
<div class="t" style="left:488.6px;top:280px;font-size:6.2px;transform:scaleX(0.85);">SPP1</div>
<div class="t" style="left:377px;top:315px;font-size:6.5px;font-weight:bold;text-decoration:underline;color:#1c1c1c;transform:scaleX(0.84);">T-Cell/NK Differentiation</div>
<div class="t" style="left:377px;top:322px;font-size:6.2px;transform:scaleX(0.85);">ATG12</div>
<div class="t" style="left:377px;top:329px;font-size:6.2px;transform:scaleX(0.85);">CCL19</div>
<div class="t" style="left:377px;top:337px;font-size:6.2px;transform:scaleX(0.85);">CCR8</div>
<div class="t" style="left:377px;top:344px;font-size:6.2px;transform:scaleX(0.85);">CTLA4</div>
<div class="t" style="left:415px;top:322px;font-size:6.2px;transform:scaleX(0.85);">IFNA1</div>
<div class="t" style="left:415px;top:329px;font-size:6.2px;transform:scaleX(0.85);">IKBKG</div>
<div class="t" style="left:415px;top:337px;font-size:6.2px;transform:scaleX(0.85);">KIR2DL4</div>
<div class="t" style="left:415px;top:344px;font-size:6.2px;transform:scaleX(0.85);">KLRF1</div>
<div class="t" style="left:415px;top:351px;font-size:6.2px;transform:scaleX(0.85);">ZC3H8</div>
<div class="t" style="left:453.3px;top:315px;font-size:6.5px;font-weight:bold;text-decoration:underline;color:#1c1c1c;transform:scaleX(0.84);">Cellular Adhesion</div>
<div class="t" style="left:453.3px;top:322px;font-size:6.2px;transform:scaleX(0.85);">CLDN17</div>
<div class="t" style="left:453.3px;top:329px;font-size:6.2px;transform:scaleX(0.85);">CLDN24</div>
<div class="t" style="left:488.6px;top:322px;font-size:6.2px;transform:scaleX(0.85);">GJB2</div>
<div class="t" style="left:488.6px;top:329px;font-size:6.2px;transform:scaleX(0.85);">SELE</div>
<div class="t" style="left:453.3px;top:342px;font-size:6.5px;font-weight:bold;text-decoration:underline;color:#1c1c1c;transform:scaleX(0.84);">Iron Metabolism</div>
<div class="t" style="left:453.3px;top:349px;font-size:6.2px;transform:scaleX(0.85);">CD163</div>
<div class="t" style="left:487.9px;top:349px;font-size:6.2px;transform:scaleX(0.85);">FNDC9</div>
<div class="t" style="left:377px;top:363px;font-size:6.5px;font-weight:bold;text-decoration:underline;color:#1c1c1c;transform:scaleX(0.84);">DNA Damage Response</div>
<div class="t" style="left:377px;top:370px;font-size:6.2px;transform:scaleX(0.85);">BRCA1</div>
<div class="t" style="left:377px;top:378px;font-size:6.2px;transform:scaleX(0.85);">CGAS</div>
<div class="t" style="left:415px;top:370px;font-size:6.2px;transform:scaleX(0.85);">RAD1</div>
<div class="t" style="left:415px;top:378px;font-size:6.2px;transform:scaleX(0.85);">STK3</div>
<div class="t" style="left:415px;top:385px;font-size:6.2px;transform:scaleX(0.85);">TP53AIP1</div>
<div class="t" style="left:453.3px;top:363px;font-size:6.5px;font-weight:bold;text-decoration:underline;color:#1c1c1c;transform:scaleX(0.84);">Retinol Metabolism</div>
<div class="t" style="left:453.3px;top:370px;font-size:6.2px;transform:scaleX(0.85);">AWAT2</div>
<div class="t" style="left:488.6px;top:370px;font-size:6.2px;transform:scaleX(0.85);">RBP2</div>
<div class="c" style="left:128.5px;top:7px;font-size:8.5px;color:#333;transform:scaleX(0.9)">Pulmonary</div>
<div class="c" style="left:128.5px;top:16px;font-size:8.5px;color:#333;transform:scaleX(0.9)">Microbes</div>
<div class="c" style="left:235.5px;top:7px;font-size:8.5px;color:#333;transform:scaleX(0.9)">Pulmonary</div>
<div class="c" style="left:235.5px;top:16px;font-size:8.5px;color:#333;transform:scaleX(0.9)">Gene Expression</div>
<div class="c" style="left:90.5px;top:46px;font-size:6.2px;color:#111;font-weight:bold;transform:scaleX(0.9)">Cluster 1</div>
<div class="c" style="left:115.5px;top:46px;font-size:6.2px;color:#111;font-weight:bold;transform:scaleX(0.9)">Cluster 2</div>
<div class="c" style="left:141.0px;top:46px;font-size:6.2px;color:#111;font-weight:bold;transform:scaleX(0.9)">Cluster 3</div>
<div class="c" style="left:166.5px;top:46px;font-size:6.2px;color:#111;font-weight:bold;transform:scaleX(0.9)">Cluster 4</div>
<div class="c" style="left:197.5px;top:46px;font-size:6.2px;color:#111;font-weight:bold;transform:scaleX(0.9)">Cluster 1</div>
<div class="c" style="left:222.5px;top:46px;font-size:6.2px;color:#111;font-weight:bold;transform:scaleX(0.9)">Cluster 2</div>
<div class="c" style="left:248.0px;top:46px;font-size:6.2px;color:#111;font-weight:bold;transform:scaleX(0.9)">Cluster 3</div>
<div class="c" style="left:273.5px;top:46px;font-size:6.2px;color:#111;font-weight:bold;transform:scaleX(0.9)">Cluster 4</div>
<svg class="ic" style="left:144px;top:27px" width="13" height="13" viewBox="0 0 13 13"><rect x="0.6" y="0.6" width="11.8" height="11.8" rx="0.7" fill="#ecd3da" stroke="#c23a52" stroke-width="1.2"/><rect x="1.8" y="1.8" width="9.4" height="9.4" fill="none" stroke="#fff" stroke-opacity="0.45" stroke-width="0.6"/><circle cx="6.5" cy="6.5" r="1.9" fill="#b01a30"/></svg>
<svg class="ic" style="left:169px;top:27px" width="13" height="13" viewBox="0 0 13 13"><rect x="0.6" y="0.6" width="11.8" height="11.8" rx="0.7" fill="#e3f0dc" stroke="#6cad55" stroke-width="1.2"/><rect x="1.8" y="1.8" width="9.4" height="9.4" fill="none" stroke="#fff" stroke-opacity="0.45" stroke-width="0.6"/><path d="M6.5 4.6 L8.8 8.2 L4.2 8.2 Z" fill="#4f9a3a"/></svg>
<svg class="ic" style="left:194px;top:27px" width="13" height="13" viewBox="0 0 13 13"><rect x="0.6" y="0.6" width="11.8" height="11.8" rx="0.7" fill="#e0ebf6" stroke="#8dbde9" stroke-width="1.2"/><rect x="1.8" y="1.8" width="9.4" height="9.4" fill="none" stroke="#fff" stroke-opacity="0.45" stroke-width="0.6"/><rect x="4.8" y="4.8" width="3.4" height="3.4" fill="#5b9ee0"/></svg>
<svg class="ic" style="left:220px;top:27px" width="13" height="13" viewBox="0 0 13 13"><rect x="0.6" y="0.6" width="11.8" height="11.8" rx="0.7" fill="#e0d6e6" stroke="#74508a" stroke-width="1.2"/><rect x="1.8" y="1.8" width="9.4" height="9.4" fill="none" stroke="#fff" stroke-opacity="0.45" stroke-width="0.6"/><path d="M6.5 4.2 V8.8 M4.2 6.5 H8.8" stroke="#5a2f70" stroke-width="1.2"/></svg>
<svg class="ic" style="left:251px;top:27px" width="13" height="13" viewBox="0 0 13 13"><rect x="0.6" y="0.6" width="11.8" height="11.8" rx="0.7" fill="#ecd3da" stroke="#c23a52" stroke-width="1.2"/><rect x="1.8" y="1.8" width="9.4" height="9.4" fill="none" stroke="#fff" stroke-opacity="0.45" stroke-width="0.6"/><circle cx="6.5" cy="6.5" r="1.9" fill="#b01a30"/></svg>
<svg class="ic" style="left:276px;top:27px" width="13" height="13" viewBox="0 0 13 13"><rect x="0.6" y="0.6" width="11.8" height="11.8" rx="0.7" fill="#e3f0dc" stroke="#6cad55" stroke-width="1.2"/><rect x="1.8" y="1.8" width="9.4" height="9.4" fill="none" stroke="#fff" stroke-opacity="0.45" stroke-width="0.6"/><path d="M6.5 4.6 L8.8 8.2 L4.2 8.2 Z" fill="#4f9a3a"/></svg>
<svg class="ic" style="left:302px;top:27px" width="13" height="13" viewBox="0 0 13 13"><rect x="0.6" y="0.6" width="11.8" height="11.8" rx="0.7" fill="#e0ebf6" stroke="#8dbde9" stroke-width="1.2"/><rect x="1.8" y="1.8" width="9.4" height="9.4" fill="none" stroke="#fff" stroke-opacity="0.45" stroke-width="0.6"/><rect x="4.8" y="4.8" width="3.4" height="3.4" fill="#5b9ee0"/></svg>
<svg class="ic" style="left:327px;top:27px" width="13" height="13" viewBox="0 0 13 13"><rect x="0.6" y="0.6" width="11.8" height="11.8" rx="0.7" fill="#e0d6e6" stroke="#74508a" stroke-width="1.2"/><rect x="1.8" y="1.8" width="9.4" height="9.4" fill="none" stroke="#fff" stroke-opacity="0.45" stroke-width="0.6"/><path d="M6.5 4.2 V8.8 M4.2 6.5 H8.8" stroke="#5a2f70" stroke-width="1.2"/></svg>
<div class="h" style="left:357px;top:10.6px;width:8px;height:25.6px;background:linear-gradient(#8a1414 0%,#b01810 15%,#d42818 35%,#d83a20 40%,#f6f0f4 46%,#c8c8ec 52%,#3a3494 58%,#2c2a88 80%,#24207c 100%)"></div>
<div class="t" style="left:367.5px;top:9px;font-size:6.2px;font-style:normal;color:#333;">4</div>
<div class="t" style="left:367.5px;top:21px;font-size:6.2px;font-style:normal;color:#333;">0</div>
<div class="t" style="left:367.5px;top:33px;font-size:6.2px;font-style:normal;color:#333;">&minus;4</div>
<svg class="ov" width="520" height="404" viewBox="0 0 520 404">
<path d="M138 56.3 C128.3 56.3 124.3 56.599999999999994 124.3 59.3 L124.3 189.4 C124.3 191.70000000000002 122.1 192.9 120.3 192.9 C122.1 192.9 124.3 194.1 124.3 196.4 L124.3 288 C124.3 291.2 128.3 291.5 138 291.5" fill="none" stroke="#303030" stroke-width="1"/><path d="M120.3 192.9 L110.5 192.9" stroke="#303030" stroke-width="1.25"/>
<path d="M138 296.5 C128.3 296.5 124.3 296.8 124.3 299.2 L124.3 303.5 C124.3 305.8 122.1 307 120.3 307 C122.1 307 124.3 308.2 124.3 310.5 L124.3 357.5 C124.3 360.5 128.3 360.8 138 360.8" fill="none" stroke="#303030" stroke-width="1"/><path d="M120.3 307 L110.5 307" stroke="#303030" stroke-width="1.25"/>
<path d="M138 365.8 C128.3 365.8 124.3 366.1 124.3 368.5 L124.3 377.0 C124.3 379.3 122.1 380.5 120.3 380.5 C122.1 380.5 124.3 381.7 124.3 384.0 L124.3 391 C124.3 394.0 128.3 394.3 138 394.3" fill="none" stroke="#303030" stroke-width="1"/><path d="M120.3 380.5 L110.5 380.5" stroke="#303030" stroke-width="1.25"/>
<path d="M346 56.3 L358.4 56.3 Q359.4 56.3 359.4 57.3 L359.4 58.2 Q359.4 59.2 358.4 59.2 L346 59.2" fill="none" stroke="#303030" stroke-width="0.9"/>
<path d="M359.4 57.7 L373.3 57.7" stroke="#303030" stroke-width="0.9"/>
<path d="M346 63.8 C355.4 63.8 359.4 64.1 359.4 66.8 L359.4 81.3 C359.4 83.6 361.59999999999997 84.8 363.4 84.8 C361.59999999999997 84.8 359.4 86.0 359.4 88.3 L359.4 93.3 C359.4 96.0 355.4 96.3 346 96.3" fill="none" stroke="#303030" stroke-width="1"/><path d="M363.4 84.8 L373.3 84.8" stroke="#303030" stroke-width="1.25"/>
<path d="M346 102.2 C355.4 102.2 359.4 102.5 359.4 105.2 L359.4 183.6 C359.4 185.9 361.59999999999997 187.1 363.4 187.1 C361.59999999999997 187.1 359.4 188.29999999999998 359.4 190.6 L359.4 227.4 C359.4 230.1 355.4 230.4 346 230.4" fill="none" stroke="#303030" stroke-width="1"/><path d="M363.4 187.1 L373.3 187.1" stroke="#303030" stroke-width="1.25"/>
<path d="M346 236.6 C355.4 236.6 359.4 236.9 359.4 239.6 L359.4 334.9 C359.4 337.2 361.59999999999997 338.4 363.4 338.4 C361.59999999999997 338.4 359.4 339.59999999999997 359.4 341.9 L359.4 391.8 C359.4 394.5 355.4 394.8 346 394.8" fill="none" stroke="#303030" stroke-width="1"/><path d="M363.4 338.4 L373.3 338.4" stroke="#303030" stroke-width="1.25"/>
</svg>
<div class="fr"></div>
</body></html>
